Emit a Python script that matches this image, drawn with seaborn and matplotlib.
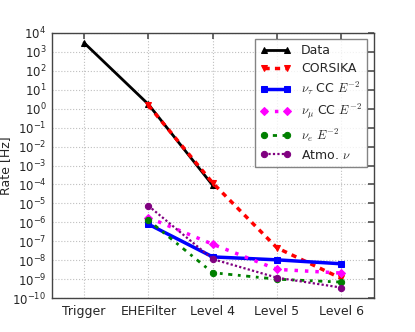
import numpy as np
import pandas as pd
import matplotlib
matplotlib.use("Agg")
import matplotlib.pyplot as plt
import seaborn as sns
from matplotlib.ticker import LogLocator, NullLocator, FixedLocator

sns.set_theme(style="white")
plt.rcParams['font.family'] = ['DejaVu Sans']
plt.rcParams['mathtext.fontset'] = 'cm'

levels = ["Trigger", "EHEFilter", "Level 4", "Level 5", "Level 6"]
data_rate = [3000, 1.7, 9e-5]
corsika_rate = [1.5, 1.2e-4, 4.5e-8, 1.1e-9]
nutau_rate = [8e-7, 1.5e-8, 1.05e-8, 6.5e-9]
numu_rate = [1.8e-6, 7e-8, 3.3e-9, 2.1e-9]
nue_rate = [1.3e-6, 2.2e-9, 1.0e-9, 7e-10]
atmo_rate = [7.5e-6, 1.15e-8, 1.2e-9, 3.6e-10]

fig = plt.figure(figsize=(4.15, 3.32), dpi=100)
ax = fig.add_axes([0.125, 0.102, 0.775, 0.799])

series = [
    ("Data", levels[0:3], data_rate, dict(color="black", linestyle="-", marker="^", markersize=4, linewidth=2)),
    ("CORSIKA", levels[1:5], corsika_rate, dict(color="red", linestyle=(0, (1.5, 1.5)), marker="v", markersize=4.5, linewidth=2.5)),
    (r"$\nu_\tau$ CC $E^{-2}$", levels[1:5], nutau_rate, dict(color="blue", linestyle="-", marker="s", markersize=4.5, linewidth=2.5)),
    (r"$\nu_\mu$ CC $E^{-2}$", levels[1:5], numu_rate, dict(color="magenta", linestyle=(0, (1, 2)), marker="D", markersize=4.5, linewidth=2.5)),
    (r"$\nu_e$ $E^{-2}$", levels[1:5], nue_rate, dict(color="green", linestyle=(0, (1, 2, 1.5, 2)), marker="o", markersize=4.5, linewidth=2)),
    (r"Atmo. $\nu$", levels[1:5], atmo_rate, dict(color="purple", linestyle=(0, (1, 1)), marker="o", markersize=4.5, linewidth=1.6)),
]

pos = {lv: i for i, lv in enumerate(levels)}
for label, lv, vals, kw in series:
    df = pd.DataFrame({"x": [pos[l] for l in lv], "y": vals})
    sns.lineplot(data=df, x="x", y="y", ax=ax, label=label,
                 markeredgecolor=kw["color"], **kw)

ax.set_yscale("log")
ax.set_ylim(1e-10, 1e4)
ax.set_xlim(-0.5, 4.5)
ax.xaxis.set_major_locator(FixedLocator(range(len(levels))))
ax.set_xticklabels(levels)
ax.yaxis.set_major_locator(LogLocator(base=10, numticks=20))
ax.yaxis.set_minor_locator(NullLocator())
ax.set_xlabel("")
ax.set_ylabel("Rate [Hz]", fontsize=9)
ax.yaxis.set_label_coords(-0.125, 0.5)
ax.grid(True, which="major", linestyle=":", color="#c0c0c0", linewidth=0.8)
ax.tick_params(axis="x", which="major", labelsize=9, pad=5)
ax.tick_params(axis="y", which="major", labelsize=8.5, pad=4)
ax.tick_params(axis="both", which="major", direction="in", length=4,
               top=True, right=True, color="#555555")
for s in ax.spines.values():
    s.set_color("#444444")
    s.set_linewidth(1)

leg = ax.legend(loc="upper right", fontsize=9, numpoints=2, frameon=True,
                fancybox=False, edgecolor="#666666", handlelength=2.5,
                borderpad=0.4, labelspacing=0.4, handletextpad=0.8,
                borderaxespad=0.5)
leg.get_frame().set_linewidth(1)

fig.savefig("out.png", dpi=100)
